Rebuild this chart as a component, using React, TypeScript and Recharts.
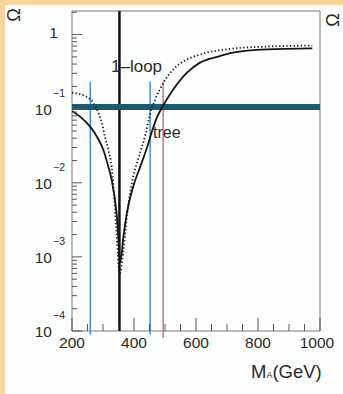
import { LineChart, Line, XAxis, YAxis, ReferenceLine, ReferenceArea } from "recharts";

// solid curve (tree)
const treeMass = [200, 226, 258, 280, 301, 317, 328, 345, 356, 366, 377, 397, 419, 442, 461, 475, 490, 526, 571, 613, 668, 719, 829, 975];
const treeOmega = [0.093, 0.078, 0.0577, 0.0422, 0.0279, 0.0166, 0.011, 0.0035, 0.00085, 0.0019, 0.0039, 0.0088, 0.016, 0.03, 0.054, 0.078, 0.103, 0.18, 0.306, 0.418, 0.5, 0.57, 0.63, 0.65];

// dotted curve (1-loop)
const loopMass = [200, 247, 269, 285, 296, 306, 317, 328, 339, 348, 353, 365, 377, 397, 412, 425, 437, 452, 468, 494, 526, 571, 613, 719, 829, 975];
const loopOmega = [0.164, 0.145, 0.12, 0.088, 0.065, 0.042, 0.028, 0.0164, 0.0043, 0.00107, 0.00057, 0.00113, 0.0035, 0.012, 0.02, 0.03, 0.045, 0.085, 0.132, 0.22, 0.337, 0.46, 0.537, 0.647, 0.689, 0.71];

const xLabels = [200, 400, 600, 800, 1000];
const xTicks = Array.from({ length: 17 }, (_, i) => 200 + 50 * i);
const yMajor = [1e-4, 1e-3, 1e-2, 1e-1, 1];
const yExponents = ["\u22124", "\u22123", "\u22122", "\u22121", ""];
const yTicks = yMajor.flatMap(d => [1, 2, 3, 4, 5, 6, 7, 8, 9].map(m => m * d)).filter(v => v <= 2.08);

const omegaLimit = 0.105;
const thresholdMass = 353;
const blueMasses = [259, 452];
const redMass = 494;

const treeData = treeMass.map((m, i) => ({ mass: m, omega: treeOmega[i] }));
const loopData = loopMass.map((m, i) => ({ mass: m, omega: loopOmega[i] }));

const FONT = "'Liberation Sans', Arial, sans-serif";
const INK = "#2a2a2a";

const XTick = ({ x, y, payload }: any) => {
  const major = xLabels.includes(payload.value);
  return (
    <g>
      <line x1={x} x2={x} y1={y} y2={y - (major ? 13 : 7)} stroke="#555" />
      {major && (
        <text x={payload.value === 1000 ? x - 3 : x} y={y + 17} textAnchor="middle" fontSize={15.5} fontFamily={FONT} fill={INK}>
          {payload.value}
        </text>
      )}
    </g>
  );
};

const YTick = ({ x, y, payload }: any) => {
  const i = yMajor.indexOf(payload.value);
  const major = i >= 0;
  return (
    <g>
      <line x1={x} x2={x + (major ? 10 : 5)} y1={y} y2={y} stroke="#555" />
      {major && i === 4 && (
        <text x={x - 18.5} y={y + 3} textAnchor="middle" fontSize={15.5} fontFamily={FONT} fill={INK}>1</text>
      )}
      {major && i < 4 && (
        <g fontFamily={FONT} fill={INK}>
          <text x={x - 20} y={y + 6} textAnchor="end" fontSize={15.5}>10</text>
          <text x={x - 19} y={y - 12} fontSize={10.5}>{yExponents[i]}</text>
        </g>
      )}
    </g>
  );
};

export default function App() {
  return (
    <div style={{ position: "absolute", top: 0, left: 0, width: 343, height: 394, background: "#f8d59c" }}>
      <div style={{ position: "absolute", top: 5, left: 5, width: 338, height: 389, background: "#fdfefe" }} />
      <div style={{ position: "absolute", top: 0, left: 0 }}>
        <LineChart width={343} height={394} margin={{ top: 11, right: 23, bottom: 33, left: 12 }}>
          <XAxis type="number" dataKey="mass" domain={[200, 1000]} ticks={xTicks} interval={0} height={30}
            axisLine={false} tickLine={false} tickSize={0} tickMargin={0} tick={<XTick />} allowDataOverflow />
          <YAxis type="number" scale="log" domain={[1e-4, 2.08]} ticks={yTicks} interval={0} width={60}
            axisLine={false} tickLine={false} tickSize={0} tickMargin={0} tick={<YTick />} allowDataOverflow />
          <ReferenceArea x1={200} x2={1000} y1={1e-4} y2={2.08} fill="none" stroke="#777" ifOverflow="visible" />
          {blueMasses.map(m => (
            <ReferenceLine key={m} segment={[{ x: m, y: 0.232 }, { x: m, y: 9e-5 }]} stroke="#3f8fd4" strokeWidth={1.5} ifOverflow="visible" />
          ))}
          <ReferenceLine segment={[{ x: redMass, y: 0.232 }, { x: redMass, y: 8e-5 }]} stroke="#d5707c" strokeWidth={1.5} ifOverflow="visible" />
          <ReferenceLine x={thresholdMass} stroke="#111" strokeWidth={2.5} />
          <ReferenceLine y={omegaLimit} stroke="#1c5b6b" strokeWidth={6} />
          <Line data={treeData} dataKey="omega" type="monotone" stroke="#151515" strokeWidth={1.8} dot={false} isAnimationActive={false} />
          <Line data={loopData} dataKey="omega" type="monotone" stroke="#151515" strokeWidth={1.8} strokeDasharray="1.3 2.3" dot={false} isAnimationActive={false} />
        </LineChart>
      </div>
      <svg width={343} height={394} style={{ position: "absolute", top: 0, left: 0, pointerEvents: "none" }} fontFamily={FONT} fill={INK}>
        <text x={111} y={72} fontSize={17}>1–loop</text>
        <text x={153} y={138} fontSize={16}>tree</text>
        <text transform="translate(20,15) rotate(-90)" textAnchor="middle" fontSize={18}>Ω</text>
        <text transform="translate(339,20) rotate(-90)" textAnchor="middle" fontSize={18}>Ω</text>
        <text x={251} y={378} fontSize={18.5}>
          M<tspan fontSize={9}>A</tspan>(GeV)
        </text>
      </svg>
    </div>
  );
}
